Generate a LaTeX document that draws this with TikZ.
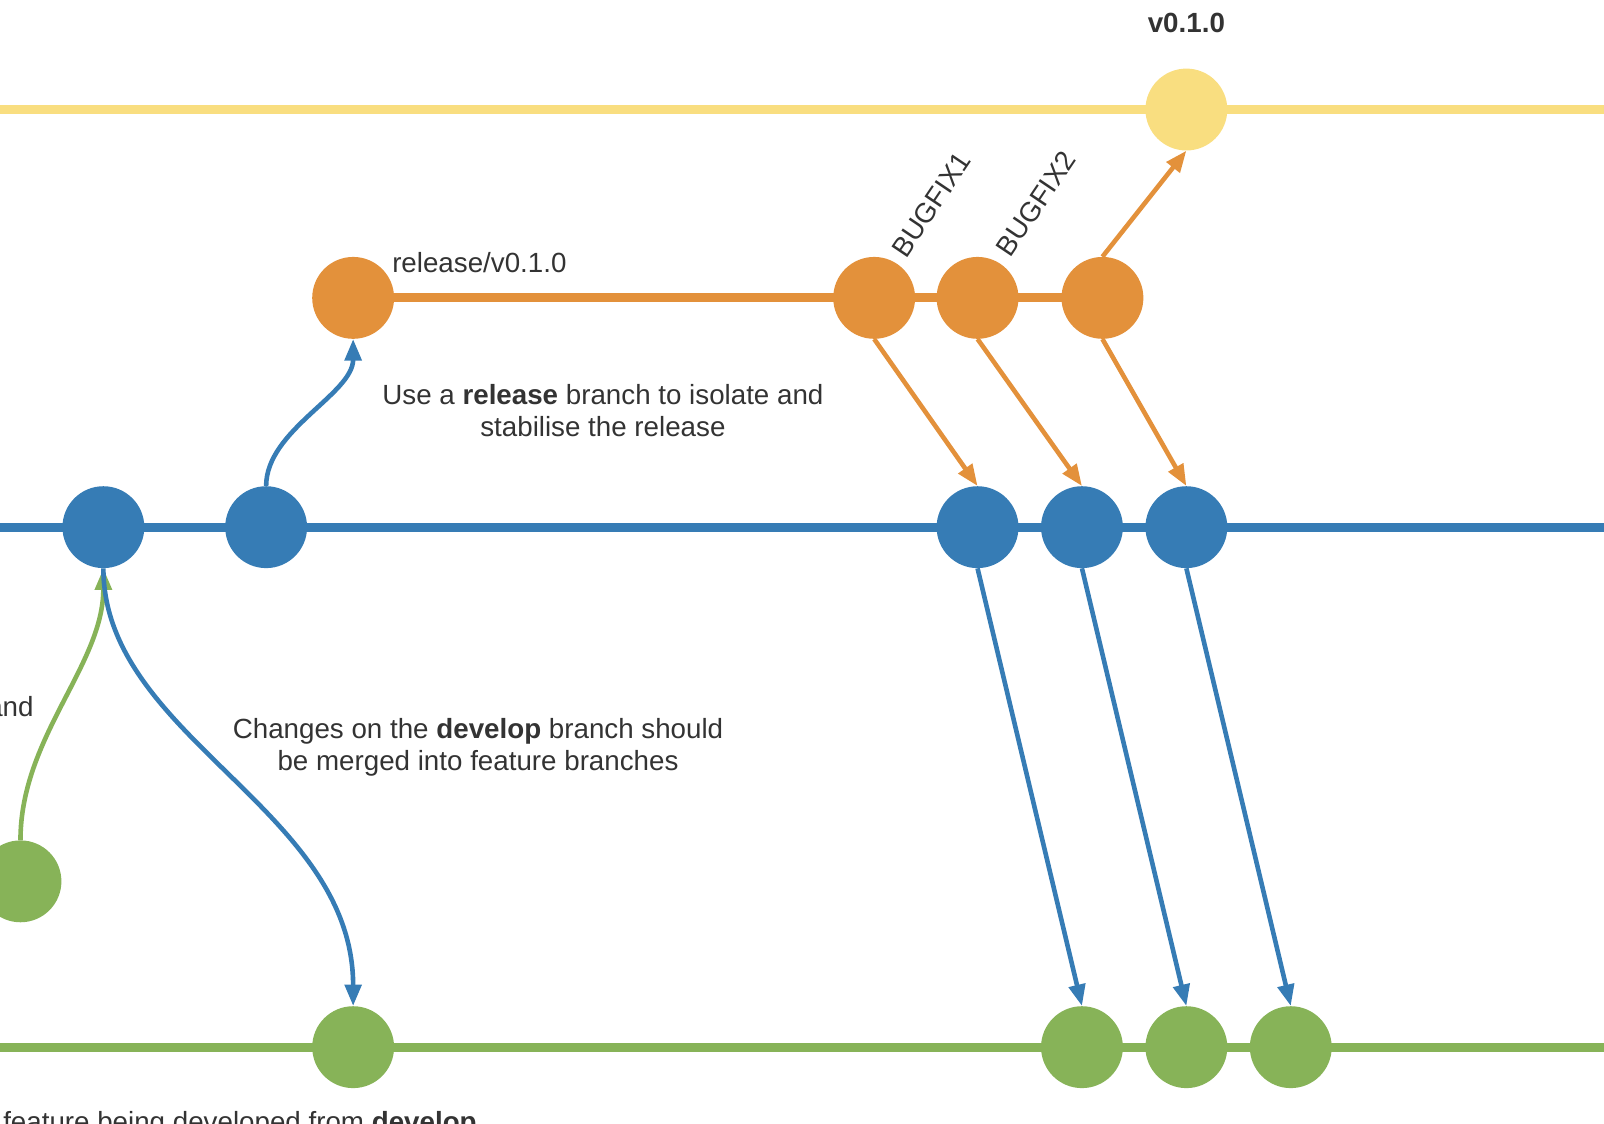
\documentclass[tikz,border=0pt]{standalone}
\usepackage{fontspec}
\setmainfont{Liberation Sans}
\usetikzlibrary{arrows.meta}
\definecolor{cyel}{HTML}{F9DE80}
\definecolor{cora}{HTML}{E3913B}
\definecolor{cblu}{HTML}{367CB5}
\definecolor{cgrn}{HTML}{87B358}
\definecolor{ctxt}{HTML}{333333}
\tikzset{
  commit/.style={circle, minimum size=80pt, inner sep=0pt, fill=#1},
  branchline/.style={line width=9pt, draw=#1},
  merge/.style={line width=4.5pt, draw=#1, -{Triangle[length=21pt,width=16pt]}},
  txt/.style={text=ctxt, inner sep=0pt, font=\fontsize{27.1}{32}\selectfont},
}
\begin{document}
\begin{tikzpicture}[x=1pt,y=-1pt]
\useasboundingbox (0,0) rectangle (1567,1098);
\clip (0,0) rectangle (1567,1098);
% branch lines
\draw[branchline=cyel] (-10,107) -- (1580,107);
\draw[branchline=cora] (345,291) -- (1077,291);
\draw[branchline=cblu] (-10,515) -- (1580,515);
\draw[branchline=cgrn] (-10,1023) -- (1580,1023);
% commits
\node[commit=cyel] (y1) at (1159,107) {};
\node[commit=cora] (r1) at (345,291) {};
\node[commit=cora] (r2) at (854,291) {};
\node[commit=cora] (r3) at (955,291) {};
\node[commit=cora] (r4) at (1077,291) {};
\node[commit=cblu] (d1) at (101,515) {};
\node[commit=cblu] (d2) at (260,515) {};
\node[commit=cblu] (d3) at (955,515) {};
\node[commit=cblu] (d4) at (1057,515) {};
\node[commit=cblu] (d5) at (1159,515) {};
\node[commit=cgrn] (g0) at (20,861) {};
\node[commit=cgrn] (f1) at (345,1023) {};
\node[commit=cgrn] (f2) at (1057,1023) {};
\node[commit=cgrn] (f3) at (1159,1023) {};
\node[commit=cgrn] (f4) at (1261,1023) {};
% connectors
\draw[merge=cblu] (d2.north) .. controls (260,420) and (345,385) .. (r1.south);
\draw[merge=cgrn] (g0.north) .. controls (20,720) and (101,650) .. (d1.south);
\draw[merge=cblu] (d1.south) .. controls (101,720) and (345,790) .. (f1.north);
\draw[merge=cora] (r2.south) -- (d3.north);
\draw[merge=cora] (r3.south) -- (d4.north);
\draw[merge=cora] (r4.south) -- (d5.north);
\draw[merge=cora] (r4.north) -- (y1.south);
\draw[merge=cblu] (d3.south) -- (f2.north);
\draw[merge=cblu] (d4.south) -- (f3.north);
\draw[merge=cblu] (d5.south) -- (f4.north);
% labels
\node[txt, anchor=base] (lv) at (1159,32) {\textbf{v0.1.0}};
\node[txt, anchor=base west] (lrel) at (383,266) {release/v0.1.0};
\node[txt, rotate=56] (lb1) at (910,200) {BUGFIX1};
\node[txt, rotate=56] (lb2) at (1012,199) {BUGFIX2};
\node[txt, align=center] (lrelnote) at (589,401) {Use a \textbf{release} branch to isolate and\\stabilise the release};
\node[txt, align=center] (ldevnote) at (467,730) {Changes on the \textbf{develop} branch should\\be merged into feature branches};
\node[txt, anchor=base east] (land) at (33,700) {and};
\node[txt, anchor=base west] (lfeat) at (3,1105) {feature being developed from \textbf{develop}};
\end{tikzpicture}
\end{document}
